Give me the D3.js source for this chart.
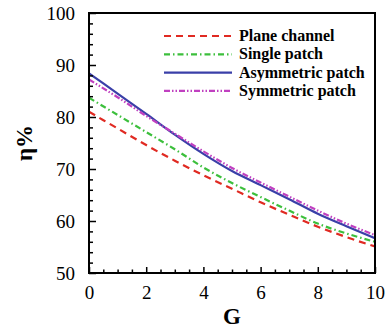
<!DOCTYPE html>
<html><head><meta charset="utf-8">
<script src="https://cdn.jsdelivr.net/npm/d3@7"></script>
<style>body{margin:0;background:#fff}svg{display:block}</style>
</head><body>
<script>
const G = [0,1,2,3,4,5,6,7,8,9,10];
const planeChannel   = [81.0,77.8,74.6,71.6,68.8,66.2,63.6,61.2,58.9,56.9,55.1];
const singlePatch    = [83.7,80.4,77.1,73.8,70.3,67.3,64.6,62.0,59.5,57.6,56.0];
const asymPatch      = [88.4,84.5,80.6,76.6,72.9,69.6,66.9,64.2,61.4,59.0,56.7];
const symPatch       = [87.2,83.8,80.2,76.8,73.4,70.2,67.4,64.7,62.0,59.5,57.3];
const seriesNames = ["Plane channel","Single patch","Asymmetric patch","Symmetric patch"];
const xTicks = [0,2,4,6,8,10];
const yTicks = [50,60,70,80,90,100];

const series = [
  {name:seriesNames[0], values:planeChannel, color:"#e02a22", dash:"7,5"},
  {name:seriesNames[1], values:singlePatch,  color:"#3cbf3c", dash:"6,3,1.5,3"},
  {name:seriesNames[2], values:asymPatch,    color:"#3a3fa8", dash:null},
  {name:seriesNames[3], values:symPatch,     color:"#c040c0", dash:"6,2,1.5,2,1.5,2"}
];

const W=390,H=330, L=89, R=375, T=13, B=273;
const svg = d3.select("body").append("svg").attr("width",W).attr("height",H);
const x = d3.scaleLinear().domain([0,10]).range([L,R]);
const y = d3.scaleLinear().domain([50,100]).range([B,T]);
const font = "'Liberation Serif','Times New Roman',serif";

// data lines
svg.append("clipPath").attr("id","c").append("rect").attr("x",L).attr("y",T).attr("width",R-L).attr("height",B-T);
const line = d3.line().x((d,i)=>x(G[i])).y(d=>y(d)).curve(d3.curveMonotoneX);
const gl = svg.append("g").attr("clip-path","url(#c)");
series.forEach(s=>{
  gl.append("path").attr("d",line(s.values)).attr("fill","none")
    .attr("stroke",s.color).attr("stroke-width",2.2)
    .attr("stroke-dasharray",s.dash);
});

// axes with inward ticks
const xMinor = d3.range(0,10.01,0.5).filter(v=>v%2!==0);
const yMinor = d3.range(50,100.01,2).filter(v=>v%10!==0);
const gx = svg.append("g").attr("transform",`translate(0,${B})`);
gx.call(d3.axisBottom(x).tickValues(xMinor).tickSize(-3.5).tickFormat(""));
gx.append("g").call(d3.axisBottom(x).tickValues(xTicks).tickSize(-6).tickPadding(13).tickFormat(d3.format("d")));
gx.selectAll(".domain").remove();
const gy = svg.append("g").attr("transform",`translate(${L},0)`);
gy.call(d3.axisLeft(y).tickValues(yMinor).tickSize(-4).tickFormat(""));
gy.append("g").call(d3.axisLeft(y).tickValues(yTicks).tickSize(-7).tickPadding(14).tickFormat(d3.format("d")));
gy.selectAll(".domain").remove();
svg.selectAll(".tick line").attr("stroke","#000").attr("stroke-width",1.5);
svg.selectAll(".tick text").attr("font-family",font).attr("font-size",19).attr("fill","#000");

// frame
svg.append("rect").attr("x",L).attr("y",T).attr("width",R-L).attr("height",B-T)
  .attr("fill","none").attr("stroke","#000").attr("stroke-width",2);

// axis titles
svg.append("text").attr("x",(L+R)/2).attr("y",324).attr("text-anchor","middle")
  .attr("font-family",font).attr("font-weight","bold").attr("font-size",23).text("G");
svg.append("text").attr("transform",`translate(32,${(T+B)/2}) rotate(-90)`).attr("text-anchor","middle")
  .attr("font-family",font).attr("font-weight","bold").attr("font-size",23).text("η%");

// legend
const lg = svg.append("g");
series.forEach((s,i)=>{
  const yy = 36 + i*18.3;
  lg.append("line").attr("x1",164).attr("x2",232).attr("y1",yy).attr("y2",yy)
    .attr("stroke",s.color).attr("stroke-width",2.2).attr("stroke-dasharray",s.dash);
  lg.append("text").attr("x",239).attr("y",yy+5).attr("font-family",font)
    .attr("font-weight","bold").attr("font-size",16).text(s.name);
});
</script>
</body></html>
